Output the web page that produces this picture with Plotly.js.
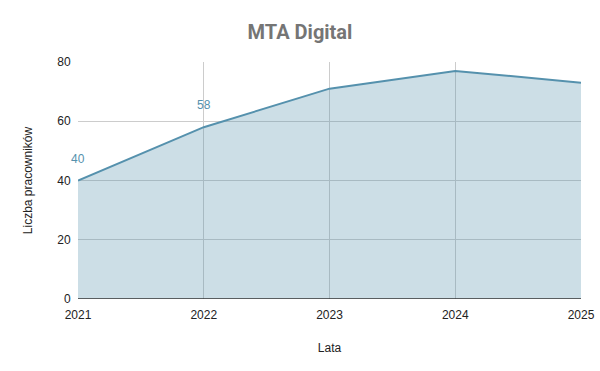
<!DOCTYPE html>
<html>
<head>
<meta charset="utf-8">
<script src="https://cdn.plot.ly/plotly-3.0.1.min.js"></script>
<style>html,body{margin:0;padding:0;background:#fff}#chart{width:600px;height:371px}</style>
</head>
<body>
<div id="chart"></div>
<script>
var years = [2021, 2022, 2023, 2024, 2025];
var employees = [40, 58, 71, 77, 73];
var pointLabels = ["40", "58", "", "", ""];
var yTicks = [0, 20, 40, 60, 80];

var lineColor = "#5591ad";

var trace = {
  x: years,
  y: employees,
  type: "scatter",
  mode: "lines",
  fill: "tozeroy",
  fillcolor: "rgba(85,145,173,0.3)",
  line: {color: lineColor, width: 2},
  hoverinfo: "skip"
};

var annotations = [];
for (var i = 0; i < years.length; i++) {
  if (pointLabels[i]) {
    annotations.push({
      x: years[i], y: employees[i], xref: "x", yref: "y",
      text: pointLabels[i], showarrow: false, yshift: 22,
      font: {family: "Liberation Sans, Arial, sans-serif", size: 12, color: lineColor}
    });
  }
}

var layout = {
  width: 600, height: 371,
  margin: {l: 78, r: 19, t: 62, b: 72},
  paper_bgcolor: "#ffffff",
  plot_bgcolor: "#ffffff",
  showlegend: false,
  title: {
    text: "<b>MTA Digital</b>",
    font: {family: "Roboto, Liberation Sans, Arial, sans-serif", size: 20, color: "#757575"},
    x: 0.5, xanchor: "center", y: 0.915, yanchor: "middle"
  },
  xaxis: {
    range: [2021, 2025],
    tickvals: years,
    ticktext: years.map(String),
    showgrid: true, gridcolor: "#cccccc", gridwidth: 1,
    zeroline: false,
    showline: false,
    ticks: "outside", ticklen: 5, tickcolor: "rgba(0,0,0,0)",
    tickfont: {family: "Liberation Sans, Arial, sans-serif", size: 12, color: "#222222"},
    title: {text: "Lata", font: {family: "Liberation Sans, Arial, sans-serif", size: 12, color: "#222222"}, standoff: 22},
    fixedrange: true
  },
  yaxis: {
    range: [0, 80],
    tickvals: yTicks,
    showgrid: true, gridcolor: "#cccccc", gridwidth: 1,
    zeroline: false,
    showline: false,
    ticks: "outside", ticklen: 4, tickcolor: "rgba(0,0,0,0)",
    tickfont: {family: "Liberation Sans, Arial, sans-serif", size: 12, color: "#222222"},
    title: {text: "Liczba pracowników", font: {family: "Liberation Sans, Arial, sans-serif", size: 12, color: "#222222"}, standoff: 22},
    fixedrange: true
  },
  shapes: [{
    type: "line", xref: "paper", yref: "y", x0: 0, x1: 1, y0: 0, y1: 0,
    line: {color: "#333333", width: 1.5}, layer: "above"
  }],
  annotations: annotations
};

Plotly.newPlot("chart", [trace], layout, {displayModeBar: false, staticPlot: true});
</script>
</body>
</html>
